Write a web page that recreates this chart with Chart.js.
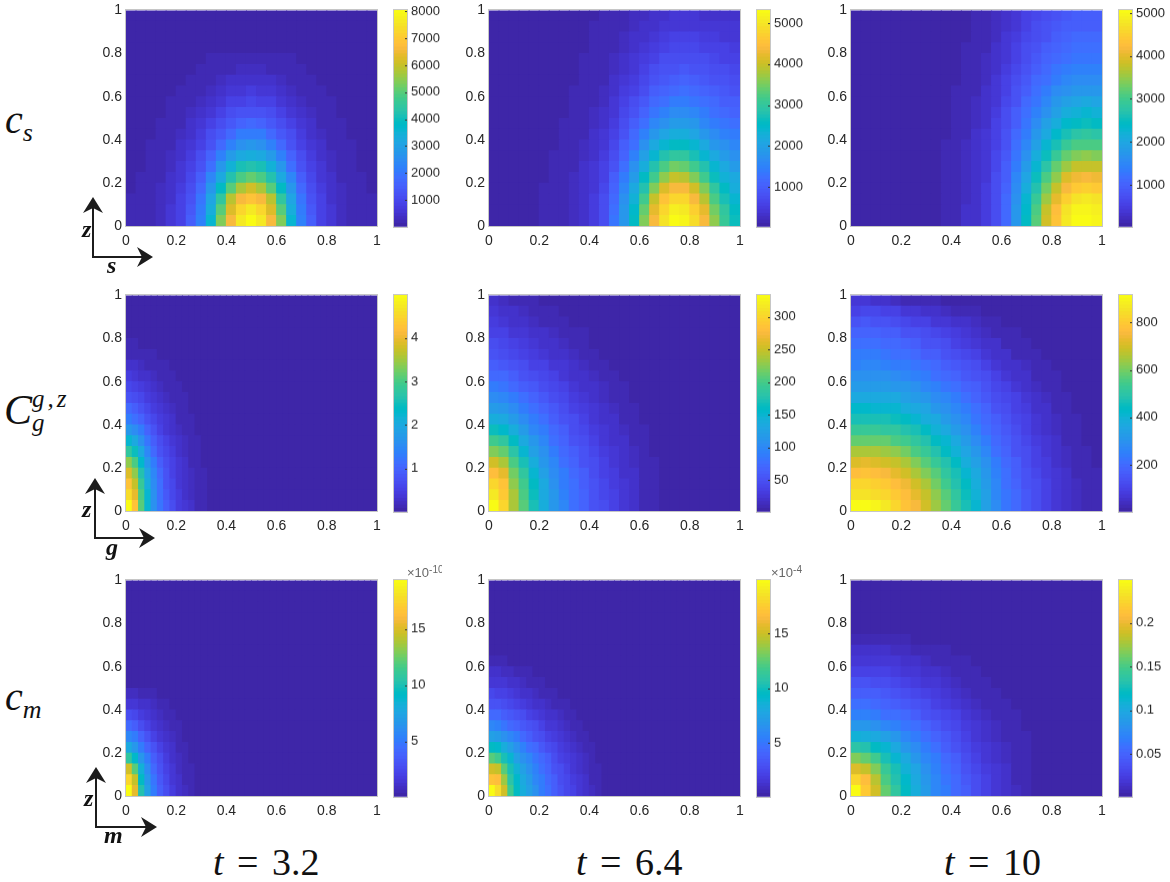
<!DOCTYPE html>
<html><head><meta charset="utf-8">
<script src="https://cdn.jsdelivr.net/npm/chart.js@4"></script>
<style>
html,body{margin:0;padding:0;background:#fff;width:1170px;height:882px;overflow:hidden}
canvas{position:absolute;display:block}
.m{position:absolute;font-family:"Liberation Serif",serif;color:#111;white-space:nowrap;line-height:1}
.m i{font-style:italic}
.ax{position:absolute;font-family:"Liberation Serif",serif;font-style:italic;font-weight:bold;color:#111;line-height:1;font-size:24px}
.ex{position:absolute;font-family:"Liberation Sans",sans-serif;font-size:13px;color:#666;overflow:hidden;white-space:nowrap;line-height:1.2}
.ex sup{font-size:10px;line-height:0;vertical-align:4px}
</style></head><body>
<script>
// Values, in percent of each panel's colour range.
// Each row starts at s=0; rows go from z=0 up. Omitted trailing cells are 0.
const csT32=[
[1,1,2,3,6,10,17,27,44,66,82,95,100,95,82,66,44,27,17,10,6,3,2,1,1],
[1,1,2,3,6,10,16,26,42,62,78,91,96,91,78,62,42,26,16,10,6,3,2,1,1],
[1,1,2,3,5,9,15,24,38,56,73,82,85,82,73,56,38,24,15,9,5,3,2,1,1],
[0,1,1,3,5,8,13,21,33,48,62,72,76,72,62,48,33,21,13,8,5,3,1,1,0],
[0,1,1,2,4,7,11,18,28,40,52,60,64,60,52,40,28,18,11,7,4,2,1,1,0],
[0,0,1,2,3,6,9,15,23,33,43,50,53,50,43,33,23,15,9,6,3,2,1,0,0],
[0,0,1,2,3,5,8,13,19,27,35,40,42,40,35,27,19,13,8,5,3,2,1,0,0],
[0,0,1,1,2,4,6,10,15,21,27,31,33,31,27,21,15,10,6,4,2,1,1,0,0],
[0,0,0,1,2,3,5,8,12,16,21,25,26,25,21,16,12,8,5,3,2,1,0,0,0],
[0,0,0,1,1,2,4,6,9,13,16,19,20,19,16,13,9,6,4,2,1,1,0,0,0],
[0,0,0,0,1,2,3,5,7,10,12,14,15,14,12,10,7,5,3,2,1,0,0,0,0],
[0,0,0,0,1,1,2,3,5,7,9,10,11,10,9,7,5,3,2,1,1,0,0,0,0],
[0,0,0,0,0,1,1,2,3,5,6,7,8,7,6,5,3,2,1,1,0,0,0,0,0],
[0,0,0,0,0,0,1,1,2,3,4,5,5,5,4,3,2,1,1,0,0,0,0,0,0],
[0,0,0,0,0,0,0,1,1,2,2,3,3,3,2,2,1,1,0,0,0,0,0,0,0],
[0,0,0,0,0,0,0,0,1,1,1,2,2,2,1,1,1,0,0,0,0,0,0,0,0]
];
const csT64=[
[0,0,0,0,0,1,1,2,3,5,8,12,24,34,48,66,82,93,100,99,92,82,68,57,49],
[0,0,0,0,0,1,1,2,3,5,8,12,23,33,46,63,79,90,97,96,89,79,65,55,47],
[0,0,0,0,0,1,1,2,3,5,8,12,21,31,43,58,74,85,91,90,83,73,60,51,45],
[0,0,0,0,0,1,1,2,3,5,7,11,19,28,39,53,67,77,83,82,76,66,55,47,42],
[0,0,0,0,0,0,1,2,3,4,7,10,17,25,35,47,59,69,74,73,67,59,49,43,39],
[0,0,0,0,0,0,1,1,2,4,6,9,15,22,31,41,52,60,65,64,59,52,44,39,35],
[0,0,0,0,0,0,1,1,2,3,5,8,13,19,27,36,45,52,56,55,51,45,39,35,31],
[0,0,0,0,0,0,0,1,2,3,5,7,11,17,23,31,39,45,48,48,44,39,34,31,28],
[0,0,0,0,0,0,0,1,1,2,4,6,10,15,20,27,33,38,41,41,38,34,30,27,25],
[0,0,0,0,0,0,0,1,1,2,3,5,8,13,17,23,28,32,35,35,33,29,26,24,22],
[0,0,0,0,0,0,0,0,1,2,3,4,7,11,15,19,24,27,30,30,28,25,23,21,19],
[0,0,0,0,0,0,0,0,1,1,2,3,6,9,12,16,20,23,25,26,24,22,20,18,17],
[0,0,0,0,0,0,0,0,1,1,2,3,5,8,10,13,17,19,21,22,21,19,17,16,15],
[0,0,0,0,0,0,0,0,0,1,2,2,4,6,8,11,14,16,18,19,18,16,15,14,13],
[0,0,0,0,0,0,0,0,0,1,1,2,3,5,7,9,12,14,15,16,15,14,13,12,11],
[0,0,0,0,0,0,0,0,0,1,1,2,3,4,6,8,10,12,13,13,13,12,11,10,10],
[0,0,0,0,0,0,0,0,0,0,1,1,2,3,5,6,8,10,11,11,11,10,9,9,8],
[0,0,0,0,0,0,0,0,0,0,1,1,2,3,4,5,7,8,9,9,9,8,8,7,7],
[0,0,0,0,0,0,0,0,0,0,1,1,1,2,3,4,5,6,7,7,7,7,6,6,6],
[0,0,0,0,0,0,0,0,0,0,0,1,1,2,3,3,4,5,6,6,6,5,5,5,5]
];
const csT10=[
[0,0,0,0,0,0,0,0,0,1,2,4,5,8,13,21,34,47,62,76,86,95,100,100,98],
[0,0,0,0,0,0,0,0,0,1,2,4,5,8,13,21,33,46,60,74,84,93,98,98,97],
[0,0,0,0,0,0,0,0,0,1,2,3,5,8,13,20,32,44,57,70,80,89,94,95,93],
[0,0,0,0,0,0,0,0,0,1,2,3,5,8,12,19,30,41,53,65,75,83,88,89,88],
[0,0,0,0,0,0,0,0,0,1,2,3,5,7,12,18,28,38,49,60,69,77,81,82,81],
[0,0,0,0,0,0,0,0,0,1,2,3,5,7,11,17,26,35,45,54,63,70,74,75,74],
[0,0,0,0,0,0,0,0,0,1,2,3,4,7,11,16,24,32,41,49,57,63,67,68,67],
[0,0,0,0,0,0,0,0,0,1,1,3,4,6,10,15,22,29,37,44,51,57,60,61,60],
[0,0,0,0,0,0,0,0,0,0,1,2,4,6,9,14,20,26,33,40,46,51,54,55,54],
[0,0,0,0,0,0,0,0,0,0,1,2,3,5,9,13,18,24,30,36,41,46,48,49,48],
[0,0,0,0,0,0,0,0,0,0,1,2,3,5,8,12,17,22,27,32,37,41,43,44,43],
[0,0,0,0,0,0,0,0,0,0,1,2,3,4,7,11,15,20,24,29,33,36,38,39,38],
[0,0,0,0,0,0,0,0,0,0,1,1,2,4,6,10,14,18,22,26,30,32,34,34,33],
[0,0,0,0,0,0,0,0,0,0,0,1,2,3,6,9,12,16,20,23,26,29,30,30,30],
[0,0,0,0,0,0,0,0,0,0,0,1,2,3,5,8,11,14,18,21,24,26,27,27,27],
[0,0,0,0,0,0,0,0,0,0,0,1,1,3,4,7,10,13,16,19,21,23,24,24,24],
[0,0,0,0,0,0,0,0,0,0,0,1,1,2,4,6,9,12,14,17,19,21,22,22,22],
[0,0,0,0,0,0,0,0,0,0,0,0,1,2,3,6,8,11,13,15,17,19,20,20,20],
[0,0,0,0,0,0,0,0,0,0,0,0,1,2,3,5,7,10,12,14,16,17,18,18,18],
[0,0,0,0,0,0,0,0,0,0,0,0,1,1,3,4,6,9,11,13,14,16,17,17,17]
];
const cgT32=[
[100,85,62,45,32,24,17,12,8,6,4,2,1],
[92,80,60,44,31,23,16,11,8,5,3,2,1],
[86,75,57,42,30,22,15,11,7,5,3,2,1],
[78,68,52,38,28,20,14,10,7,4,3,1,1],
[68,60,46,34,25,18,13,9,6,4,2,1],
[55,49,39,29,21,15,11,8,5,3,2,1],
[44,39,31,24,17,13,9,6,4,3,1,1],
[34,30,25,19,14,10,7,5,3,2,1],
[26,23,19,14,11,8,6,4,2,1,1],
[20,18,14,11,8,6,4,3,2,1],
[15,13,11,8,6,4,3,2,1,1],
[11,10,8,6,4,3,2,1,1],
[8,7,5,4,3,2,1,1],
[5,4,3,2,2,1,1],
[2,2,2,1,1],
[1,1]
];
const cgT64=[
[100,90,72,62,50,41,34,28,23,19,15,12,9,7,5,2,1],
[95,88,71,61,49,40,33,27,23,19,15,11,9,6,4,2,1],
[90,85,69,59,47,39,32,26,22,18,14,11,8,6,4,2,1],
[84,80,65,55,45,37,30,25,21,17,13,10,8,5,4,2,1],
[76,72,60,50,41,34,28,23,19,15,12,9,7,5,3,1,1],
[67,63,54,45,37,31,26,21,17,14,11,8,6,4,3,1],
[58,55,47,40,33,28,23,19,15,12,10,7,5,4,2,1],
[49,46,41,35,29,25,20,17,13,11,8,6,4,3,2,1],
[42,39,35,30,25,22,18,15,12,9,7,5,4,2,1],
[35,33,30,26,22,19,16,13,10,8,6,4,3,2,1],
[30,28,25,22,19,16,13,11,8,7,5,3,2,1],
[25,24,21,18,16,13,11,9,7,5,4,3,2,1],
[21,20,17,15,13,11,9,7,5,4,3,2,1],
[17,16,14,12,10,9,7,6,4,3,2,1],
[14,13,11,10,8,7,5,4,3,2,1],
[12,11,9,8,6,5,4,3,2,1],
[10,9,7,6,5,4,3,2,1,1],
[8,7,5,4,3,2,2,1],
[6,5,4,3,2,1,1],
[4,3,2,1,1]
];
const cgT10=[
[100,100,98,96,91,86,82,76,70,64,57,50,44,37,30,24,20,16,13,10,7,5,3,2,1],
[94,94,92,90,87,84,79,74,68,62,55,49,43,36,29,24,20,16,12,9,7,5,3,2,1],
[90,90,89,87,84,81,76,71,65,59,53,47,41,35,28,23,19,15,12,9,6,4,3,1,1],
[84,85,84,83,80,76,72,67,62,56,50,45,39,33,27,22,18,14,11,8,6,4,2,1,1],
[78,79,78,76,74,71,67,62,57,52,47,42,36,31,25,21,17,13,10,8,5,3,2,1],
[71,71,71,70,68,65,61,57,53,48,43,38,33,28,23,19,15,12,9,7,5,3,1,1],
[64,64,64,63,61,59,56,52,48,44,39,35,30,26,21,17,14,11,8,6,4,2,1],
[57,57,57,56,55,53,50,47,43,39,35,31,27,23,19,16,13,10,7,5,3,2,1],
[51,51,51,50,49,47,45,42,39,35,31,28,24,21,17,14,11,9,6,4,3,1,1],
[46,46,45,45,44,42,40,38,34,31,28,25,22,19,15,12,10,8,5,4,2,1],
[40,40,40,40,39,37,35,33,30,28,25,22,19,16,13,11,9,6,4,3,1,1],
[35,35,35,35,34,33,31,29,27,24,22,19,17,14,11,9,7,5,3,2,1],
[31,31,31,31,30,29,27,25,23,21,19,16,14,12,9,7,5,4,2,1,1],
[27,28,28,27,26,25,24,22,20,18,16,14,12,10,7,5,4,3,1,1],
[25,25,25,24,23,22,20,18,17,15,13,11,9,7,5,4,2,1,1],
[22,22,22,21,20,19,17,15,14,12,10,8,7,5,4,2,1,1],
[19,19,19,18,17,15,14,12,11,9,8,6,5,3,2,1,1],
[15,16,15,14,13,11,10,9,7,6,5,4,3,2,1],
[10,11,11,10,9,7,6,5,4,3,2,1,1],
[6,6,5,4,3,2,2,1,1]
];
const cmT32=[
[100,80,52,36,25,17,12,8,5,3,1],
[90,74,48,34,24,16,11,7,4,2,1],
[76,62,43,30,21,14,10,6,3,2,1],
[56,46,34,25,17,12,8,5,3,1],
[40,34,26,19,14,9,6,4,2,1],
[29,25,19,14,10,7,4,3,1],
[20,17,13,10,7,5,3,2,1],
[13,11,8,6,5,3,2,1],
[7,6,5,4,3,2,1],
[3,3,2,1,1]
];
const cmT64=[
[100,92,76,58,48,42,37,31,26,22,18,14,11,9,7,5,3,1],
[86,84,70,54,46,40,35,29,25,21,17,13,11,8,6,4,2,1],
[76,74,62,50,43,37,32,27,23,19,15,12,10,7,5,3,2,1],
[62,58,50,44,37,32,28,24,20,17,13,10,8,6,4,3,1],
[48,46,42,36,31,27,23,20,16,13,11,8,6,5,3,2,1],
[37,35,32,28,25,21,18,15,13,10,8,6,5,3,2,1],
[28,27,24,21,19,16,14,12,9,7,6,4,3,2,1],
[21,20,18,16,14,12,10,8,6,5,4,3,2,1],
[15,14,13,11,10,8,7,5,4,3,2,1,1],
[11,10,9,8,7,5,4,3,2,2,1],
[7,6,6,5,4,3,2,2,1],
[4,4,3,3,2,2,1],
[1,1,1]
];
const cmT10=[
[100,88,76,63,55,47,41,35,29,25,21,17,12,9,6,4,3,1],
[90,84,73,61,53,46,40,34,29,24,20,16,12,9,6,4,2,1],
[78,74,66,57,50,43,38,32,27,23,19,15,11,8,6,4,2,1],
[67,64,58,51,45,39,34,29,25,21,17,13,10,7,5,3,2,1],
[54,52,48,44,39,34,30,26,22,18,15,11,8,6,4,3,1,1],
[43,42,39,36,33,29,26,22,19,16,13,10,7,5,3,2,1,1],
[34,33,31,29,27,24,22,19,16,13,11,8,6,4,3,2,1],
[27,27,25,23,22,20,18,15,13,11,9,6,5,3,2,1,1],
[22,22,21,19,18,16,14,12,10,8,7,5,3,2,1,1],
[18,18,17,16,14,13,11,10,8,6,5,3,2,1,1],
[14,14,13,12,11,10,8,7,6,4,3,2,1,1],
[10,10,10,9,8,7,6,5,4,3,2,1,1],
[7,7,7,6,6,5,4,3,2,2,1,1],
[4,4,4,4,3,3,2,2,1,1],
[1,1,1,1,1,1]
];
// Colour-bar tick labels and ranges
const csT32Ticks=[1000,2000,3000,4000,5000,6000,7000,8000];
const csT64Ticks=[1000,2000,3000,4000,5000];
const csT10Ticks=[1000,2000,3000,4000,5000];
const cgT32Ticks=[1,2,3,4];
const cgT64Ticks=[50,100,150,200,250,300];
const cgT10Ticks=[200,400,600,800];
const cmT32Ticks=[5,10,15];
const cmT64Ticks=[5,10,15];
const cmT10Ticks=[0.05,0.1,0.15,0.2];
const ranges=[[0,8060],[20,5330],[20,5075],[0,4.99],[1,334],[2,917],[0.05,19.4],[0.1,19.9],[0.0007,0.2495]];
const axisTicks=[0,0.2,0.4,0.6,0.8,1];

// Parula colour table
const parula=[[.2422,.1504,.6603],[.2504,.1650,.7076],[.2578,.1818,.7511],[.2647,.1978,.7952],[.2706,.2147,.8364],[.2751,.2342,.8710],[.2783,.2559,.8991],[.2803,.2782,.9221],[.2813,.3006,.9414],[.2810,.3228,.9579],[.2795,.3447,.9717],[.2760,.3667,.9829],[.2699,.3892,.9906],[.2602,.4123,.9952],[.2440,.4358,.9988],[.2206,.4603,.9973],[.1963,.4847,.9892],[.1834,.5074,.9798],[.1786,.5289,.9682],[.1764,.5499,.9520],[.1687,.5703,.9359],[.1540,.5902,.9218],[.1460,.6091,.9079],[.1380,.6276,.8973],[.1248,.6459,.8883],[.1113,.6635,.8763],[.0952,.6798,.8598],[.0689,.6948,.8394],[.0297,.7082,.8163],[.0036,.7203,.7917],[.0067,.7312,.7660],[.0433,.7411,.7394],[.0964,.7500,.7120],[.1408,.7584,.6842],[.1717,.7670,.6554],[.1938,.7758,.6251],[.2161,.7843,.5923],[.2470,.7918,.5567],[.2906,.7973,.5188],[.3406,.8008,.4789],[.3909,.8029,.4354],[.4456,.8024,.3909],[.5044,.7993,.3480],[.5616,.7942,.3045],[.6174,.7876,.2612],[.6720,.7793,.2227],[.7242,.7698,.1910],[.7738,.7598,.1646],[.8203,.7498,.1535],[.8634,.7406,.1596],[.9035,.7330,.1774],[.9393,.7288,.2100],[.9728,.7298,.2394],[.9956,.7434,.2371],[.9970,.7659,.2199],[.9952,.7893,.2028],[.9892,.8136,.1885],[.9786,.8386,.1766],[.9676,.8639,.1643],[.9610,.8890,.1537],[.9597,.9135,.1423],[.9628,.9373,.1265],[.9691,.9606,.1064],[.9769,.9839,.0805]];
const colorAt=f=>{const i=Math.max(0,Math.min(63,Math.round(f*63)));const c=parula[i];return `rgb(${Math.round(c[0]*255)},${Math.round(c[1]*255)},${Math.round(c[2]*255)})`;};

const FONT='"Liberation Sans",Arial,sans-serif';
const TXT='#262626', BOX='#c6c6c6';
const lefts=[126,489,851], tops=[10,295,580], barLefts=[394,757,1119];
const PW=251, PH=216, BW=13, PADL=40, PADT=10, PADR=12, PADB=30;
const grids=[csT32,csT64,csT10,cgT32,cgT64,cgT10,cmT32,cmT64,cmT10];
const tickSets=[csT32Ticks,csT64Ticks,csT10Ticks,cgT32Ticks,cgT64Ticks,cgT10Ticks,cmT32Ticks,cmT64Ticks,cmT10Ticks];
const colCounts=[25,25,25,40,25,25,40,40,25];
const rowCount=20;

Chart.defaults.animation=false;
Chart.defaults.font.family=FONT;
const boxPlugin={id:'box',afterDatasetsDraw(c){const a=c.chartArea,x=c.ctx;x.save();x.strokeStyle=BOX;x.lineWidth=1;x.strokeRect(Math.round(a.left)-.5,Math.round(a.top)-.5,Math.round(a.width)+1,Math.round(a.height)+1);x.restore();}};
const barTickPlugin={id:'barTicks',afterDatasetsDraw(c){const a=c.chartArea,x=c.ctx,s=c.scales.y;x.save();x.strokeStyle='#333';x.lineWidth=1;s.ticks.forEach(t=>{const p=Math.round(s.getPixelForValue(t.value))+.5;x.beginPath();x.moveTo(a.right-2,p);x.lineTo(a.right,p);x.stroke();});x.restore();}};

function addCanvas(l,t,w,h){const c=document.createElement('canvas');c.style.left=l+'px';c.style.top=t+'px';c.style.width=w+'px';c.style.height=h+'px';c.width=w;c.height=h;document.body.appendChild(c);return c;}
// Nudge a chart so that its plot area lands exactly on the wanted box.
function place(chart,l,t,w,h){
  for(let i=0;i<3;i++){
    const a=chart.chartArea,dw=w-(a.right-a.left),dh=h-(a.bottom-a.top);
    if(Math.abs(dw)<.01&&Math.abs(dh)<.01)break;
    chart.resize(chart.width+dw,chart.height+dh);
  }
  const a=chart.chartArea;
  chart.canvas.style.left=(l-a.left)+'px';
  chart.canvas.style.top=(t-a.top)+'px';
}

grids.forEach((grid,n)=>{
  const col=n%3,row=Math.floor(n/3),nx=colCounts[n],dx=1/nx,dz=1/rowCount;
  const datasets=[];
  for(let r=0;r<rowCount;r++){
    const vals=grid[r]||[];const data=[],colors=[];
    for(let k=0;k<nx;k++){const v=vals[k]||0;data.push({x:(k+.5)*dx,y:[r*dz,Math.min(1,(r+1)*dz)]});colors.push(colorAt(v/100));}
    datasets.push({data,backgroundColor:colors,borderWidth:0,inflateAmount:0.5,grouped:false,barPercentage:1,categoryPercentage:1,clip:0});
  }
  const scaleCommon=(extra)=>Object.assign({type:'linear',min:0,max:1,offset:false,grid:{display:false,drawTicks:false},border:{display:false}},extra);
  const heat=new Chart(addCanvas(lefts[col]-PADL,tops[row]-PADT,PADL+PW+PADR,PADT+PH+PADB),{
    type:'bar',
    data:{datasets},
    plugins:[boxPlugin],
    options:{responsive:false,maintainAspectRatio:false,animation:false,devicePixelRatio:1,
      layout:{padding:{top:PADT,right:PADR,left:0,bottom:0}},
      plugins:{legend:{display:false},tooltip:{enabled:false}},
      scales:{
        x:scaleCommon({afterBuildTicks:a=>{a.ticks=axisTicks.map(v=>({value:v}));},afterFit:a=>{a.height=PADB;},ticks:{color:TXT,font:{size:14},padding:6,maxRotation:0,autoSkip:false,callback:v=>String(v)}}),
        y:scaleCommon({afterBuildTicks:a=>{a.ticks=axisTicks.map(v=>({value:v}));},afterFit:a=>{a.width=PADL;},ticks:{color:TXT,font:{size:14},padding:4,autoSkip:false,callback:v=>String(v)}})
      }
    }
  });
  place(heat,lefts[col],tops[row],PW,PH);
  // colour bar
  const [lo,hi]=ranges[n];
  const levels=parula.map((_,i)=>i);
  const barSets=levels.map(i=>({data:[[lo+(hi-lo)*i/64,lo+(hi-lo)*(i+1)/64]],backgroundColor:colorAt(i/63),borderWidth:0,grouped:false,barPercentage:1,categoryPercentage:1}));
  const cbar=new Chart(addCanvas(barLefts[col],tops[row]-PADT,BW+46,PADT+PH+8),{
    type:'bar',
    data:{labels:[''],datasets:barSets},
    plugins:[boxPlugin,barTickPlugin],
    options:{responsive:false,maintainAspectRatio:false,animation:false,devicePixelRatio:1,
      layout:{padding:{top:PADT,bottom:8,left:1}},
      plugins:{legend:{display:false},tooltip:{enabled:false}},
      scales:{
        x:{display:false},
        y:{type:'linear',position:'right',min:lo,max:hi,grid:{display:false,drawTicks:false},border:{display:false},
          afterBuildTicks:a=>{a.ticks=tickSets[n].map(v=>({value:v}));},afterFit:a=>{a.width=46;},
          ticks:{color:TXT,font:{size:13},padding:4,autoSkip:false,callback:v=>String(v)}}
      }
    }
  });
  place(cbar,barLefts[col],tops[row],BW,PH);
});

// Text and axis-key annotations
function html(cls,l,t,s,extra){const d=document.createElement('div');d.className=cls;d.style.left=l+'px';d.style.top=t+'px';d.innerHTML=s;if(extra)d.style.cssText+=extra;document.body.appendChild(d);}
html('m',5,100,'<i>c<sub style="font-size:26px;vertical-align:-8px;line-height:0">s</sub></i>','font-size:40px');
html('m',4,389,'<i>C<span style="position:absolute;left:28px;top:-3px;font-size:25px;letter-spacing:3px">g,z</span><span style="position:absolute;left:28px;top:21px;font-size:25px">g</span></i>','font-size:42px');
html('m',5,677,'<i>c<sub style="font-size:26px;vertical-align:-8px;line-height:0">m</sub></i>','font-size:40px');
html('m',213,843,'<i>t</i> = 3.2','font-size:38px;word-spacing:4px');
html('m',576,843,'<i>t</i> = 6.4','font-size:38px;word-spacing:4px');
html('m',944,843,'<i>t</i> = 10','font-size:38px;word-spacing:4px');
html('ex',407,565,'×10<sup>-10</sup>','width:35px');
html('ex',771,565,'×10<sup>-4</sup>','width:40px');
const keys=[[93,257,197,153,'s',107,253,82,217],[95,538,478,155,'g',106,535,82,497],[96,827,767,157,'m',104,823,84,786]];
const svgNS='http://www.w3.org/2000/svg';
const svg=document.createElementNS(svgNS,'svg');svg.setAttribute('width',1170);svg.setAttribute('height',882);svg.style.cssText='position:absolute;left:0;top:0';
keys.forEach(([cx,cy,ty,rx])=>{
  const p=document.createElementNS(svgNS,'path');
  p.setAttribute('d',`M${cx} ${ty+10}V${cy}H${rx-10}`);p.setAttribute('fill','none');p.setAttribute('stroke','#1c1c1c');p.setAttribute('stroke-width','2');svg.appendChild(p);
  const a=document.createElementNS(svgNS,'path');
  a.setAttribute('d',`M${cx} ${ty}L${cx+10} ${ty+16}L${cx} ${ty+11}L${cx-10} ${ty+16}ZM${rx} ${cy}L${rx-16} ${cy+10}L${rx-11} ${cy}L${rx-16} ${cy-10}Z`);a.setAttribute('fill','#1c1c1c');svg.appendChild(a);
});
document.body.appendChild(svg);
keys.forEach(([cx,cy,ty,rx,lab,lx,ly,zx,zy])=>{html('ax',zx,zy,'z');html('ax',lx,ly,lab);});
</script>
</body></html>
